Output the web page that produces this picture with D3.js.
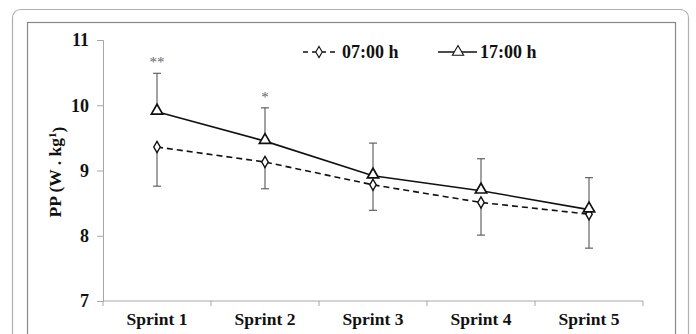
<!DOCTYPE html>
<html>
<head>
<meta charset="utf-8">
<script src="https://cdn.jsdelivr.net/npm/d3@7"></script>
<style>
  body { margin: 0; background: #fff; }
  svg text { font-family: "Liberation Serif", "Times New Roman", serif; font-weight: bold; }
</style>
</head>
<body>
<svg id="chart" width="696" height="334"></svg>
<script>
'use strict';

// data
const sprints = ["Sprint 1", "Sprint 2", "Sprint 3", "Sprint 4", "Sprint 5"];
const pp0700 = [9.36, 9.13, 8.78, 8.51, 8.33];
const sd0700 = [0.60, 0.41, 0.39, 0.50, 0.52];
const pp1700 = [9.90, 9.45, 8.92, 8.69, 8.40];
const sd1700 = [0.59, 0.51, 0.50, 0.49, 0.49];
const marks = ["**", "*", "", "", ""];
const yTicks = [7, 8, 9, 10, 11];

let svg = d3.select("#chart");
let serif = "'Liberation Serif', 'Times New Roman', serif";

// outer frames
svg.append("rect")
    .attr("x", 12.5).attr("y", 9.5)
    .attr("width", 676).attr("height", 340)
    .attr("rx", 8)
    .style("fill", "none").style("stroke", "#b0b0b0").style("stroke-width", 1.2);
svg.append("rect")
    .attr("x", 27.5).attr("y", 22.5)
    .attr("width", 648).attr("height", 330)
    .style("fill", "none").style("stroke", "#888").style("stroke-width", 1.2);

let marginLeft = 103, marginTop = 40, plotW = 540, plotH = 261;

let x = d3.scaleBand().domain(sprints).range([0, plotW]);
let y = d3.scaleLinear().domain([7, 11]).range([plotH, 0]);

let g = svg.append("g").attr("transform", `translate(${marginLeft},${marginTop})`);

// y axis
let yAxis = g.append("g")
    .call(d3.axisLeft(y).tickValues(yTicks).tickSize(6).tickPadding(8).tickFormat(d3.format("d")));
yAxis.attr("font-family", null).attr("font-size", null);
yAxis.select(".domain").style("stroke", "#a6a6a6");
yAxis.selectAll(".tick line").style("stroke", "#a6a6a6");
yAxis.selectAll(".tick text")
    .style("font-size", "18px").style("fill", "#111")
    .style("font-family", serif).style("font-weight", "bold");

// x axis with ticks on the category boundaries
let xAxis = g.append("g").attr("transform", `translate(0,${plotH})`)
    .call(d3.axisBottom(x).tickSize(0).tickPadding(12));
xAxis.attr("font-family", null).attr("font-size", null);
xAxis.select(".domain").attr("d", `M0,0H${plotW}`).style("stroke", "#a6a6a6");
xAxis.selectAll(".tick text")
    .style("font-size", "17.5px").style("fill", "#111")
    .style("font-family", serif).style("font-weight", "bold");
g.append("g").selectAll("line")
    .data(d3.range(sprints.length + 1))
    .enter().append("line")
    .attr("x1", i => i * x.bandwidth()).attr("x2", i => i * x.bandwidth())
    .attr("y1", plotH).attr("y2", plotH + 5)
    .style("stroke", "#a6a6a6");

// axis title
let title = svg.append("text")
    .attr("transform", "translate(61,172) rotate(-90)")
    .attr("text-anchor", "middle")
    .style("font-size", "17.5px").style("fill", "#111")
    .text("PP (W . kg");
title.append("tspan").attr("dy", "-0.45em").style("font-size", "11px").text("1");
title.append("tspan").attr("dy", "0.45em").text(")");

let cx = d => x(d) + x.bandwidth() / 2;
let capW = 4;

// error bars: 07:00 h down, 17:00 h up
function errorBars(vals, sds, dir) {
    let eg = g.append("g").style("stroke", "#555").style("stroke-width", 1.1);
    sprints.forEach((s, i) => {
        let end = vals[i] + dir * sds[i];
        eg.append("line").attr("x1", cx(s)).attr("x2", cx(s))
            .attr("y1", y(vals[i])).attr("y2", y(end));
        eg.append("line").attr("x1", cx(s) - capW).attr("x2", cx(s) + capW)
            .attr("y1", y(end)).attr("y2", y(end));
    });
}
errorBars(pp0700, sd0700, -1);
errorBars(pp1700, sd1700, 1);

// lines
let line = d3.line().x((d, i) => cx(sprints[i])).y(d => y(d));
g.append("path").datum(pp0700).attr("d", line)
    .style("fill", "none").style("stroke", "#111").style("stroke-width", 1.6)
    .style("stroke-dasharray", "6,4");
g.append("path").datum(pp1700).attr("d", line)
    .style("fill", "none").style("stroke", "#111").style("stroke-width", 1.6);

// markers
let diamond = d3.symbol().type(d3.symbolDiamond).size(36);
let triangle = d3.symbol().type(d3.symbolTriangle).size(55);
g.selectAll(".m07").data(pp0700).enter().append("path")
    .attr("class", "m07")
    .attr("transform", (d, i) => `translate(${cx(sprints[i])},${y(d)})`)
    .attr("d", diamond)
    .style("fill", "#fff").style("stroke", "#111").style("stroke-width", 1.4);
g.selectAll(".m17").data(pp1700).enter().append("path")
    .attr("class", "m17")
    .attr("transform", (d, i) => `translate(${cx(sprints[i])},${y(d) - 1})`)
    .attr("d", triangle)
    .style("fill", "#fff").style("stroke", "#111").style("stroke-width", 1.7);

// significance marks
g.selectAll(".sig").data(marks).enter().append("text")
    .attr("class", "sig")
    .attr("x", (d, i) => cx(sprints[i]))
    .attr("y", (d, i) => y(pp1700[i] + sd1700[i]) - 6)
    .attr("text-anchor", "middle")
    .style("font-size", "15px").style("font-weight", "normal").style("fill", "#666")
    .text(d => d);

// legend
let legend = svg.append("g");
legend.append("line").attr("x1", 303).attr("x2", 335).attr("y1", 52).attr("y2", 52)
    .style("stroke", "#111").style("stroke-width", 1.6).style("stroke-dasharray", "5,4");
legend.append("path").attr("transform", "translate(319,52)").attr("d", diamond)
    .style("fill", "#fff").style("stroke", "#111").style("stroke-width", 1.1);
legend.append("text").attr("x", 342).attr("y", 58)
    .style("font-size", "18px").style("fill", "#111").text("07:00 h");
legend.append("line").attr("x1", 438).attr("x2", 477).attr("y1", 52).attr("y2", 52)
    .style("stroke", "#111").style("stroke-width", 1.6);
legend.append("path").attr("transform", "translate(458,52)").attr("d", triangle)
    .style("fill", "#fff").style("stroke", "#111").style("stroke-width", 1.1);
legend.append("text").attr("x", 480).attr("y", 58)
    .style("font-size", "18px").style("fill", "#111").text("17:00 h");
</script>
</body>
</html>
